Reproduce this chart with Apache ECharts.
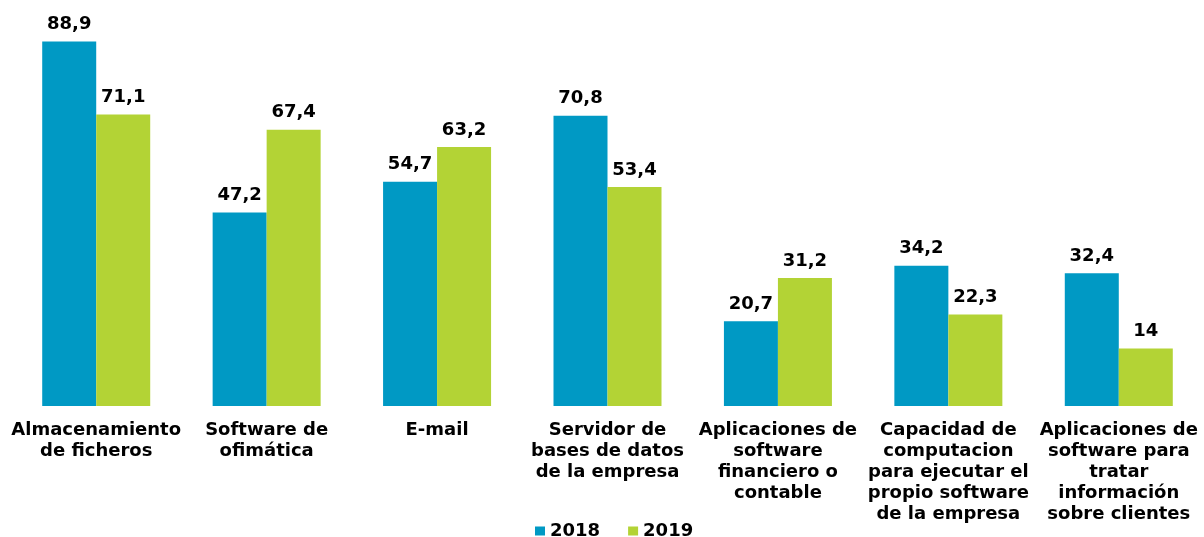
<!DOCTYPE html>
<html>
<head>
<meta charset="utf-8">
<script src="https://cdn.jsdelivr.net/npm/echarts@6/dist/echarts.min.js"></script>
<style>
  html, body { margin: 0; padding: 0; background: #fff; }
  #chart { width: 1204px; height: 537px; }
</style>
</head>
<body>
<div id="chart"></div>
<script type="text/javascript">
  // categories and values
  var categories = [
    'Almacenamiento\nde ficheros',
    'Software de\nofimática',
    'E-mail',
    'Servidor de\nbases de datos\nde la empresa',
    'Aplicaciones de\nsoftware\nfinanciero o\ncontable',
    'Capacidad de\ncomputacion\npara ejecutar el\npropio software\nde la empresa',
    'Aplicaciones de\nsoftware para\ntratar\ninformación\nsobre clientes'
  ];
  var values2018 = [88.9, 47.2, 54.7, 70.8, 20.7, 34.2, 32.4];
  var values2019 = [71.1, 67.4, 63.2, 53.4, 31.2, 22.3, 14];

  var font = 'DejaVu Sans, Verdana, sans-serif';

  var myChart = echarts.init(document.getElementById('chart'));

  function labelFmt(p) {
    return String(p.value).replace('.', ',');
  }

  var option = {
    animation: false,
    grid: {
      left: 11,
      right: -4,
      top: 37,
      bottom: 131,
      containLabel: false
    },
    legend: {
      top: 517,
      left: 530,
      itemWidth: 10,
      itemHeight: 9,
      itemGap: 28,
      icon: 'rect',
      textStyle: { fontFamily: font, fontWeight: 'bold', fontSize: 18, color: '#000' },
      data: ['2018', '2019']
    },
    xAxis: {
      type: 'category',
      data: categories,
      axisLine: { show: false },
      axisTick: { show: false },
      axisLabel: {
        interval: 0,
        margin: 14,
        fontFamily: font,
        fontWeight: 'bold',
        fontSize: 18,
        lineHeight: 21,
        color: '#000'
      }
    },
    yAxis: {
      type: 'value',
      min: 0,
      max: 90,
      show: false,
      splitLine: { show: false }
    },
    series: [
      {
        name: '2018',
        type: 'bar',
        data: values2018,
        barWidth: 54,
        barGap: '0%',
        itemStyle: { color: '#0099C4' },
        label: {
          show: true,
          position: 'top',
          distance: 8,
          formatter: labelFmt,
          fontFamily: font,
          fontWeight: 'bold',
          fontSize: 18,
          color: '#000'
        }
      },
      {
        name: '2019',
        type: 'bar',
        data: values2019,
        barWidth: 54,
        barGap: '0%',
        itemStyle: { color: '#B3D335' },
        label: {
          show: true,
          position: 'top',
          distance: 8,
          formatter: labelFmt,
          fontFamily: font,
          fontWeight: 'bold',
          fontSize: 18,
          color: '#000'
        }
      }
    ]
  };

  myChart.setOption(option);

  window.onresize = function () {
    myChart.resize();
  };
</script>
</body>
</html>
